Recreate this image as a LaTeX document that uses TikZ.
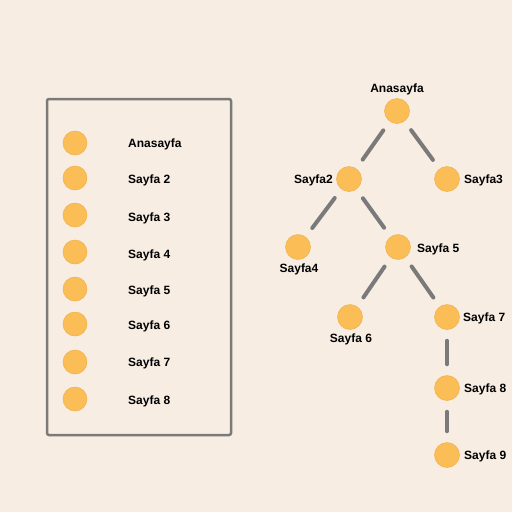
\documentclass[tikz,border=0pt]{standalone}
\usepackage{fontspec}
\setmainfont{Liberation Sans}
\definecolor{bg}{HTML}{F7EDE3}
\definecolor{dot}{HTML}{FBBD55}
\definecolor{dotedge}{HTML}{F2B04A}
\definecolor{ln}{HTML}{7A7A7A}
\begin{document}
\begin{tikzpicture}[x=1pt,y=-1pt,
  dotnode/.style={circle,fill=dot,draw=dotedge,line width=0.5pt,minimum size=25pt,inner sep=0pt},
  lbl/.style={font=\bfseries\fontsize{12}{13}\selectfont,inner sep=0pt,yshift=-1.5pt},
  edge/.style={draw=ln,line width=4pt,line cap=round,shorten <=11pt,shorten >=11pt}]
\fill[bg] (0,0) rectangle (512,512);
\useasboundingbox (0,0) rectangle (512,512);
% list box
\draw[ln,line width=2.5pt,rounded corners=2pt] (47,99) rectangle (231,435);
\foreach \y/\t/\ty [count=\i] in {143/Anasayfa/143,178/Sayfa 2/179,215/Sayfa 3/217,252/Sayfa 4/254,289/Sayfa 5/290,324/Sayfa 6/325,362/Sayfa 7/362,399/Sayfa 8/400}{
  \node[dotnode,minimum size=24pt] (l\i) at (75,\y) {};
  \node[lbl,anchor=west] (lt\i) at (128,\ty) {\t};
}
% tree
\node[dotnode] (a) at (397,111) {};
\node[dotnode] (s2) at (349,179) {};
\node[dotnode] (s3) at (447,179) {};
\node[dotnode] (s4) at (298,247) {};
\node[dotnode] (s5) at (398,247) {};
\node[dotnode] (s6) at (350,317) {};
\node[dotnode] (s7) at (447,317) {};
\node[dotnode] (s8) at (447,388) {};
\node[dotnode] (s9) at (447,455) {};
\node[lbl] (ta) at (397,88) {Anasayfa};
\node[lbl,anchor=east] (t2) at (333,179) {Sayfa2};
\node[lbl,anchor=west] (t3) at (464,179) {Sayfa3};
\node[lbl] (t4) at (299,268) {Sayfa4};
\node[lbl,anchor=west] (t5) at (417,248) {Sayfa 5};
\node[lbl] (t6) at (351,338) {Sayfa 6};
\node[lbl,anchor=west] (t7) at (463,317) {Sayfa 7};
\node[lbl,anchor=west] (t8) at (464,388) {Sayfa 8};
\node[lbl,anchor=west] (t9) at (464,455) {Sayfa 9};
\draw[edge] (a) -- (s2);
\draw[edge] (a) -- (s3);
\draw[edge] (s2) -- (s4);
\draw[edge] (s2) -- (s5);
\draw[edge] (s5) -- (s6);
\draw[edge] (s5) -- (s7);
\draw[edge] (s7) -- (s8);
\draw[edge] (s8) -- (s9);
\end{tikzpicture}
\end{document}
